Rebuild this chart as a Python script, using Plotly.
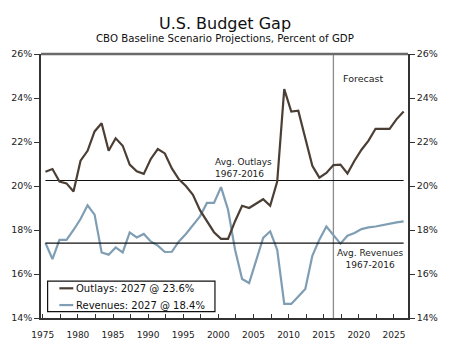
import plotly.graph_objects as go

# ---- data ----
years = list(range(1975, 2027))
outlays = [20.65, 20.77, 20.2, 20.12, 19.75, 21.15, 21.6, 22.48, 22.85, 21.6,
           22.17, 21.83, 20.97, 20.67, 20.55, 21.23, 21.68, 21.48, 20.8, 20.3,
           20.0, 19.6, 18.9, 18.4, 17.9, 17.6, 17.6, 18.4, 19.1, 19.0,
           19.2, 19.4, 19.1, 20.2, 24.4, 23.38, 23.42, 22.18, 20.92, 20.38,
           20.59, 20.95, 20.97, 20.57, 21.15, 21.65, 22.06, 22.6, 22.6, 22.6,
           23.04, 23.39]
revenues = [17.41, 16.68, 17.55, 17.55, 18.0, 18.5, 19.12, 18.7, 16.98, 16.88,
            17.21, 16.98, 17.89, 17.66, 17.82, 17.48, 17.29, 17.0, 17.01, 17.48,
            17.82, 18.24, 18.62, 19.23, 19.23, 19.95, 18.92, 17.1, 15.77, 15.59,
            16.65, 17.64, 17.94, 17.1, 14.64, 14.64, 14.98, 15.32, 16.83, 17.56,
            18.16, 17.79, 17.38, 17.74, 17.86, 18.04, 18.12, 18.16, 18.23, 18.29,
            18.35, 18.39]
avg_outlays = 20.25
avg_revenues = 17.4
forecast_start = 2016
series_names = ["Outlays: 2027 @ 23.6%", "Revenues: 2027 @ 18.4%"]
x_ticks = [1975, 1980, 1985, 1990, 1995, 2000, 2005, 2010, 2015, 2020, 2025]
y_ticks = [14, 16, 18, 20, 22, 24, 26]

# ---- style ----
FONT = "DejaVu Sans"
C_OUT = "#4b3f35"
C_REV = "#7f9db3"
X_OFF = 0.38  # annual points plotted slightly after the year tick
xs = [y + X_OFF for y in years]

fig = go.Figure()
fig.add_trace(go.Scatter(x=[xs[0], xs[-1]], y=[avg_outlays] * 2, mode="lines",
                         line=dict(color="#111111", width=1.2), showlegend=False, hoverinfo="skip"))
fig.add_trace(go.Scatter(x=[xs[0], xs[-1]], y=[avg_revenues] * 2, mode="lines",
                         line=dict(color="#111111", width=1.2), showlegend=False, hoverinfo="skip",
                         yaxis="y2"))
fig.add_trace(go.Scatter(x=xs, y=revenues, mode="lines", name=series_names[1],
                         line=dict(color=C_REV, width=2.2), showlegend=False))
fig.add_trace(go.Scatter(x=xs, y=outlays, mode="lines", name=series_names[0],
                         line=dict(color=C_OUT, width=2.2), showlegend=False))

shapes = [
    # forecast divider
    dict(type="line", xref="x", yref="paper", x0=forecast_start + X_OFF, x1=forecast_start + X_OFF,
         y0=0, y1=1, line=dict(color="#8c8c8c", width=1.3), layer="below"),
    # top border
    dict(type="line", xref="paper", yref="paper", x0=0, x1=1, y0=1, y1=1,
         line=dict(color="#6a6a6a", width=2.5)),
    # legend box
    dict(type="rect", xref="paper", yref="paper", x0=0.018, x1=0.474, y0=0.024, y1=0.140,
         fillcolor="white", line=dict(color="#111111", width=1.2)),
    dict(type="line", xref="paper", yref="paper", x0=0.050, x1=0.088, y0=0.1125, y1=0.1125,
         line=dict(color=C_OUT, width=2.2)),
    dict(type="line", xref="paper", yref="paper", x0=0.050, x1=0.088, y0=0.049, y1=0.049,
         line=dict(color=C_REV, width=2.2)),
]

annotations = [
    dict(text="CBO Baseline Scenario Projections, Percent of GDP", xref="paper", yref="paper",
         x=0.5, y=1.0606, xanchor="center", yanchor="middle", showarrow=False,
         font=dict(family=FONT, size=10.2, color="#111111")),
    dict(text="Forecast", xref="x", yref="y", x=2017.4, y=24.9, xanchor="left", yanchor="middle",
         showarrow=False, font=dict(family=FONT, size=9.5, color="#222222")),
    dict(text="Avg. Outlays<br>1967-2016", xref="x", yref="y", x=1999.3, y=20.8, xanchor="left",
         yanchor="middle", align="left", showarrow=False, font=dict(family=FONT, size=9, color="#222222")),
    dict(text="Avg. Revenues<br>1967-2016", xref="x", yref="y", x=2021.67, y=16.68, xanchor="center",
         yanchor="middle", align="center", showarrow=False, font=dict(family=FONT, size=9, color="#222222")),
    dict(text=series_names[0], xref="paper", yref="paper", x=0.089, y=0.1125, xanchor="left",
         yanchor="middle", showarrow=False, font=dict(family=FONT, size=10, color="#111111")),
    dict(text=series_names[1], xref="paper", yref="paper", x=0.089, y=0.049, xanchor="left",
         yanchor="middle", showarrow=False, font=dict(family=FONT, size=10, color="#111111")),
]

yax = dict(range=[14, 26], tickvals=y_ticks, ticktext=[f"{v}%" for v in y_ticks],
           showgrid=False, zeroline=False, showline=True, linecolor="#333333", linewidth=1.5,
           ticks="outside", ticklen=5, tickcolor="#333333", tickwidth=1.2, automargin=False,
           tickfont=dict(family=FONT, size=9.5, color="#222222"))

fig.update_layout(
    width=450, height=344,
    margin=dict(l=41, r=42, t=54, b=26),
    paper_bgcolor="white", plot_bgcolor="white",
    title=dict(text="U.S. Budget Gap", x=0.5, xanchor="center", xref="container",
               y=1 - 23 / 344, yanchor="middle", yref="container",
               font=dict(family=FONT, size=16, color="#111111")),
    xaxis=dict(range=[1974.75, 2027], tickvals=x_ticks, showgrid=False, zeroline=False,
               showline=True, linecolor="#333333", linewidth=1.5, automargin=False,
               ticks="inside", ticklen=4, tickcolor="#333333", tickwidth=1.2,
               minor=dict(dtick=2.5, tick0=1975, ticks="inside", ticklen=4, tickcolor="#333333",
                          tickwidth=1.2, showgrid=False),
               ticklabelstandoff=7,
               tickfont=dict(family=FONT, size=9, color="#222222")),
    yaxis=yax,
    yaxis2=dict(yax, overlaying="y", side="right"),
    shapes=shapes,
    annotations=annotations,
    showlegend=False,
)

fig.write_html("out.html")
